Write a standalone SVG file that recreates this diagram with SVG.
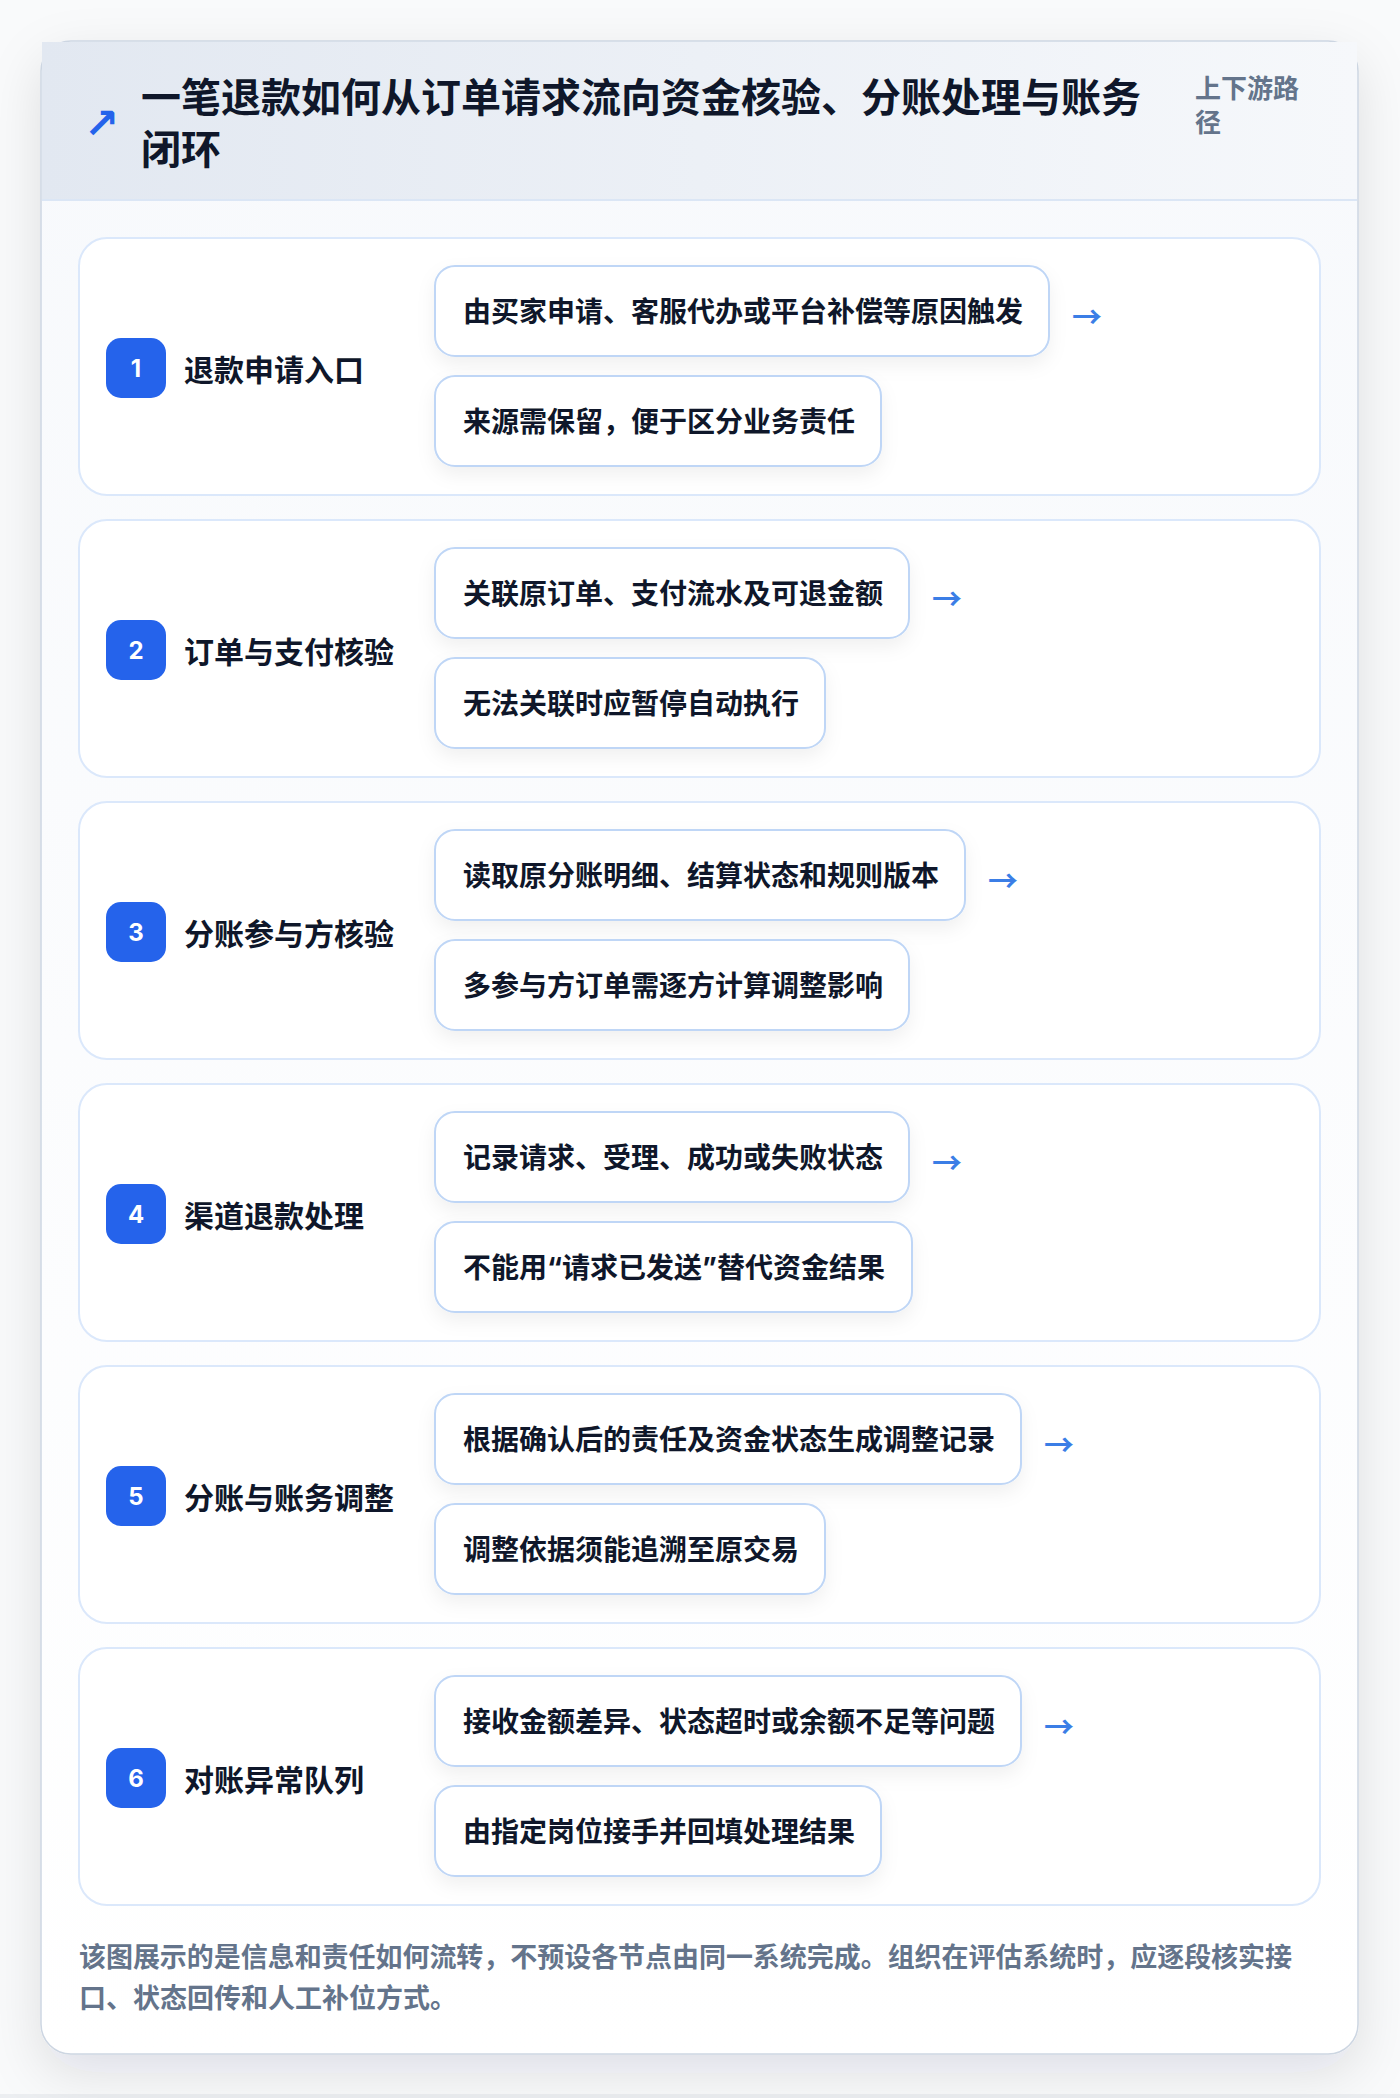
<svg xmlns="http://www.w3.org/2000/svg" width="1400" height="2098" viewBox="0 0 1400 2098">
<defs>
<linearGradient id="hdr" x1="0" y1="0" x2="1" y2="0">
<stop offset="0" stop-color="#e2e8f1"/>
<stop offset="1" stop-color="#f6f8fb"/>
</linearGradient>
<linearGradient id="body" x1="0" y1="0" x2="0" y2="1">
<stop offset="0" stop-color="#f7f9fc"/>
<stop offset="1" stop-color="#ffffff"/>
</linearGradient>
<filter id="cardShadow" x="-10%" y="-10%" width="120%" height="120%">
<feDropShadow dx="0" dy="18" stdDeviation="26" flood-color="#0f172a" flood-opacity="0.11"/>
</filter>
<filter id="itemShadow" x="-10%" y="-30%" width="120%" height="180%">
<feDropShadow dx="0" dy="8" stdDeviation="9" flood-color="#0f172a" flood-opacity="0.06"/>
</filter>
</defs>
<style>
text{font-family:Inter,"Noto Sans CJK SC",sans-serif;font-weight:700}
.row{fill:#ffffff;stroke:#dbe8fb;stroke-width:2}
.badge{fill:#2563eb}
.num{fill:#ffffff;font-size:24px;text-anchor:middle}
.step{fill:#0f172a;font-size:30px}
.item rect{fill:#ffffff;stroke:#bfd6f6;stroke-width:2;filter:url(#itemShadow)}
.item text{fill:#0f172a;font-size:28px}
.arr{fill:#3b7ee6;font-size:30px;font-family:"Noto Sans CJK SC",sans-serif;font-weight:700}
.foot{fill:#64748b;font-size:27px}
</style>
<rect x="0" y="0" width="1400" height="2098" fill="#f9fafb"/>
<rect x="0" y="2094" width="1400" height="4" fill="#eceef1"/>
<g id="card">
<rect x="41" y="41" width="1317" height="2013" rx="30" fill="url(#body)" stroke="#cdd6e2" stroke-width="1.5" filter="url(#cardShadow)"/>
<rect x="42" y="42" width="1315" height="158" fill="url(#hdr)"/>
<line x1="42" y1="200" x2="1357" y2="200" stroke="#dbe6f5" stroke-width="2"/>
</g>
<g id="header">
<text x="84" y="138" fill="#2563eb" font-size="42" style="font-family:'DejaVu Sans',sans-serif;font-weight:700">↗</text>
<text x="141" y="112" fill="#0f172a" font-size="40">一笔退款如何从订单请求流向资金核验、分账处理与账务</text>
<text x="141" y="164" fill="#0f172a" font-size="40">闭环</text>
<text x="1195" y="98" fill="#64748b" font-size="26">上下游路</text>
<text x="1195" y="132" fill="#64748b" font-size="26">径</text>
</g>
<g id="step1">
<rect class="row" x="79" y="238" width="1241" height="257" rx="28"/>
<rect class="badge" x="106" y="338" width="60" height="60" rx="15"/>
<text class="num" x="136" y="377">1</text>
<text class="step" x="184" y="381">退款申请入口</text>
<g class="item" id="step1-a"><rect x="435" y="266" width="614" height="90" rx="20"/><text x="463" y="322">由买家申请、客服代办或平台补偿等原因触发</text></g>
<g class="item" id="step1-b"><rect x="435" y="376" width="446" height="90" rx="20"/><text x="463" y="432">来源需保留，便于区分业务责任</text></g>
</g>
<g id="step2">
<rect class="row" x="79" y="520" width="1241" height="257" rx="28"/>
<rect class="badge" x="106" y="620" width="60" height="60" rx="15"/>
<text class="num" x="136" y="659">2</text>
<text class="step" x="184" y="663">订单与支付核验</text>
<g class="item" id="step2-a"><rect x="435" y="548" width="474" height="90" rx="20"/><text x="463" y="604">关联原订单、支付流水及可退金额</text></g>
<g class="item" id="step2-b"><rect x="435" y="658" width="390" height="90" rx="20"/><text x="463" y="714">无法关联时应暂停自动执行</text></g>
</g>
<g id="step3">
<rect class="row" x="79" y="802" width="1241" height="257" rx="28"/>
<rect class="badge" x="106" y="902" width="60" height="60" rx="15"/>
<text class="num" x="136" y="941">3</text>
<text class="step" x="184" y="945">分账参与方核验</text>
<g class="item" id="step3-a"><rect x="435" y="830" width="530" height="90" rx="20"/><text x="463" y="886">读取原分账明细、结算状态和规则版本</text></g>
<g class="item" id="step3-b"><rect x="435" y="940" width="474" height="90" rx="20"/><text x="463" y="996">多参与方订单需逐方计算调整影响</text></g>
</g>
<g id="step4">
<rect class="row" x="79" y="1084" width="1241" height="257" rx="28"/>
<rect class="badge" x="106" y="1184" width="60" height="60" rx="15"/>
<text class="num" x="136" y="1223">4</text>
<text class="step" x="184" y="1227">渠道退款处理</text>
<g class="item" id="step4-a"><rect x="435" y="1112" width="474" height="90" rx="20"/><text x="463" y="1168">记录请求、受理、成功或失败状态</text></g>
<g class="item" id="step4-b"><rect x="435" y="1222" width="477" height="90" rx="20"/><text x="463" y="1278">不能用“请求已发送”替代资金结果</text></g>
</g>
<g id="step5">
<rect class="row" x="79" y="1366" width="1241" height="257" rx="28"/>
<rect class="badge" x="106" y="1466" width="60" height="60" rx="15"/>
<text class="num" x="136" y="1505">5</text>
<text class="step" x="184" y="1509">分账与账务调整</text>
<g class="item" id="step5-a"><rect x="435" y="1394" width="586" height="90" rx="20"/><text x="463" y="1450">根据确认后的责任及资金状态生成调整记录</text></g>
<g class="item" id="step5-b"><rect x="435" y="1504" width="390" height="90" rx="20"/><text x="463" y="1560">调整依据须能追溯至原交易</text></g>
</g>
<g id="step6">
<rect class="row" x="79" y="1648" width="1241" height="257" rx="28"/>
<rect class="badge" x="106" y="1748" width="60" height="60" rx="15"/>
<text class="num" x="136" y="1787">6</text>
<text class="step" x="184" y="1791">对账异常队列</text>
<g class="item" id="step6-a"><rect x="435" y="1676" width="586" height="90" rx="20"/><text x="463" y="1732">接收金额差异、状态超时或余额不足等问题</text></g>
<g class="item" id="step6-b"><rect x="435" y="1786" width="446" height="90" rx="20"/><text x="463" y="1842">由指定岗位接手并回填处理结果</text></g>
</g>
<g id="connectors">
<text class="arr" x="1072" y="328">→</text>
<text class="arr" x="932" y="610">→</text>
<text class="arr" x="988" y="892">→</text>
<text class="arr" x="932" y="1174">→</text>
<text class="arr" x="1044" y="1456">→</text>
<text class="arr" x="1044" y="1738">→</text>
</g>
<g id="footer">
<text class="foot" x="79" y="1967" textLength="1213" lengthAdjust="spacing">该图展示的是信息和责任如何流转，不预设各节点由同一系统完成。组织在评估系统时，应逐段核实接</text>
<text class="foot" x="79" y="2008">口、状态回传和人工补位方式。</text>
</g>
</svg>
